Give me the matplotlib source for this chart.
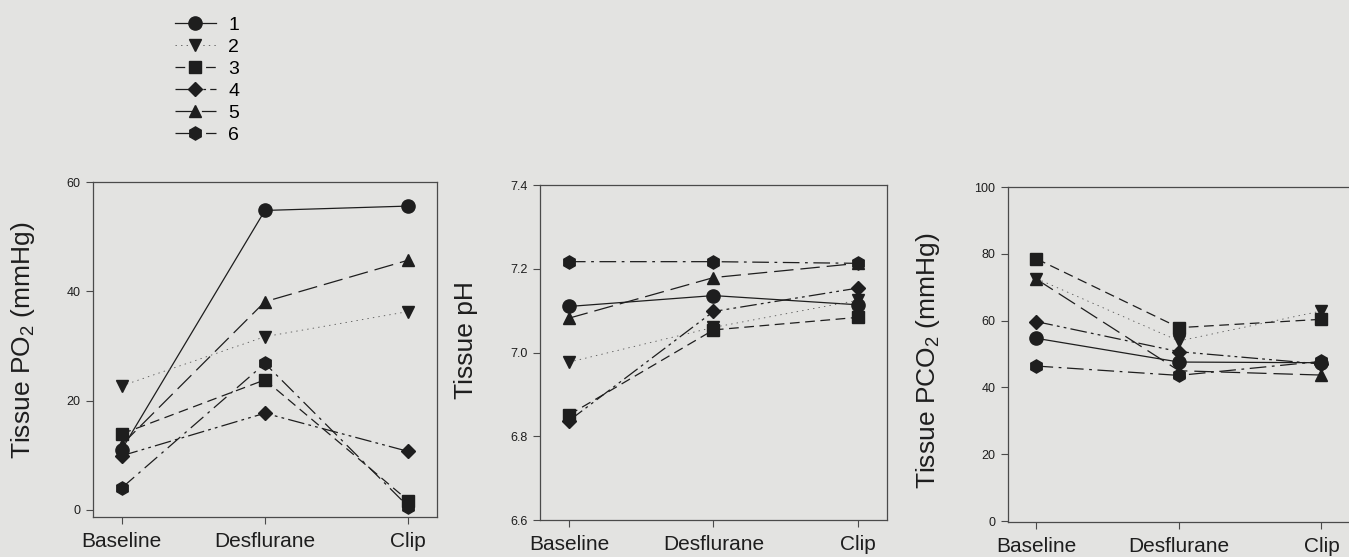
import numpy as np
import matplotlib
matplotlib.use('Agg')
import matplotlib.pyplot as plt

plt.rcParams['font.family'] = ['Liberation Sans', 'DejaVu Sans']
plt.rcParams['mathtext.default'] = 'regular'
plt.rcParams['lines.scale_dashes'] = False

phases = ['Baseline', 'Desflurane', 'Clip']
series = ['1', '2', '3', '4', '5', '6']

# tissue PO2 (mmHg), one list per animal
po2_1 = [11.0, 54.8, 55.6]
po2_2 = [22.7, 31.7, 36.3]
po2_3 = [13.9, 23.8, 1.7]
po2_4 = [9.9, 17.7, 10.7]
po2_5 = [11.9, 38.1, 45.7]
po2_6 = [4.0, 26.8, 0.6]

# tissue pH
ph_1 = [7.11, 7.136, 7.114]
ph_2 = [6.977, 7.06, 7.125]
ph_3 = [6.851, 7.054, 7.084]
ph_4 = [6.837, 7.098, 7.154]
ph_5 = [7.082, 7.179, 7.213]
ph_6 = [7.217, 7.217, 7.213]

# tissue PCO2 (mmHg)
pco2_1 = [54.7, 47.6, 47.4]
pco2_2 = [72.6, 53.9, 62.9]
pco2_3 = [78.5, 57.9, 60.4]
pco2_4 = [59.7, 50.7, 47.0]
pco2_5 = [72.4, 45.0, 43.7]
pco2_6 = [46.4, 43.6, 47.8]

po2 = [po2_1, po2_2, po2_3, po2_4, po2_5, po2_6]
ph = [ph_1, ph_2, ph_3, ph_4, ph_5, ph_6]
pco2 = [pco2_1, pco2_2, pco2_3, pco2_4, pco2_5, pco2_6]

markers = ['o', 'v', 's', 'D', '^', 'h']
msizes = [9.5, 8.5, 8, 7.5, 9, 9.5]
dashes = [None, (1, 3), (7, 4), (12, 3, 2, 3, 2, 3), (14, 5), (12, 4, 2, 4)]
ink = '#1e1e1e'
spine_c = '#4a4a4a'
bg = '#e3e3e1'

fig = plt.figure(figsize=(13.49, 5.57), dpi=100, facecolor=bg)

axes_pos = [[0.0689, 0.0718, 0.2550, 0.6014],
            [0.4003, 0.0664, 0.2572, 0.6014],
            [0.7472, 0.0628, 0.2535, 0.6014]]
datas = [po2, ph, pco2]
ylims = [(-1.3, 60), (6.6, 7.4), (-0.3, 100)]
yticks = [[0, 20, 40, 60], [6.6, 6.8, 7.0, 7.2, 7.4], [0, 20, 40, 60, 80, 100]]
yfmt = ['{:.0f}', '{:.1f}', '{:.0f}']
ylabels = ['Tissue PO$_2$ (mmHg)', 'Tissue pH', 'Tissue PCO$_2$ (mmHg)']
lab_xy = [(-0.163, 0.528), (-0.18, 0.537), (-0.193, 0.48)]

x = np.arange(len(phases))
handles = []
for k in range(3):
    ax = fig.add_axes(axes_pos[k])
    ax.set_facecolor(bg)
    for i, vals in enumerate(datas[k]):
        ls = '-' if dashes[i] is None else (0, dashes[i])
        lw = 0.6 if i == 1 else 0.9
        lc = '#555555' if i == 1 else ink
        ln, = ax.plot(x, vals, linestyle=ls, color=lc, lw=lw, marker=markers[i],
                      markersize=msizes[i], markerfacecolor=ink, markeredgecolor=ink)
        if k == 0:
            handles.append(ln)
    ax.set_xlim(-0.2, 2.2)
    ax.set_ylim(ylims[k])
    ax.set_xticks(x)
    ax.set_xticklabels(phases, fontsize=15, color=ink)
    ax.set_yticks(yticks[k])
    ax.set_yticklabels([yfmt[k].format(v) for v in yticks[k]], fontsize=9, color=ink)
    ax.tick_params(axis='both', direction='out', length=5, width=0.8, color=spine_c)
    ax.tick_params(axis='x', pad=6)
    ax.tick_params(axis='y', pad=4)
    for sp in ax.spines.values():
        sp.set_color(spine_c)
        sp.set_linewidth(0.9)
    ax.set_ylabel(ylabels[k], fontsize=19, color=ink)
    ax.yaxis.set_label_coords(*lab_xy[k])

fig.legend(handles, series, loc='upper left', bbox_to_anchor=(0.1297, 0.971),
           frameon=False, fontsize=14, handlelength=2.1, handletextpad=0.65,
           labelspacing=0.23, borderpad=0, borderaxespad=0)

fig.savefig('out.png', dpi=100, facecolor=bg)
